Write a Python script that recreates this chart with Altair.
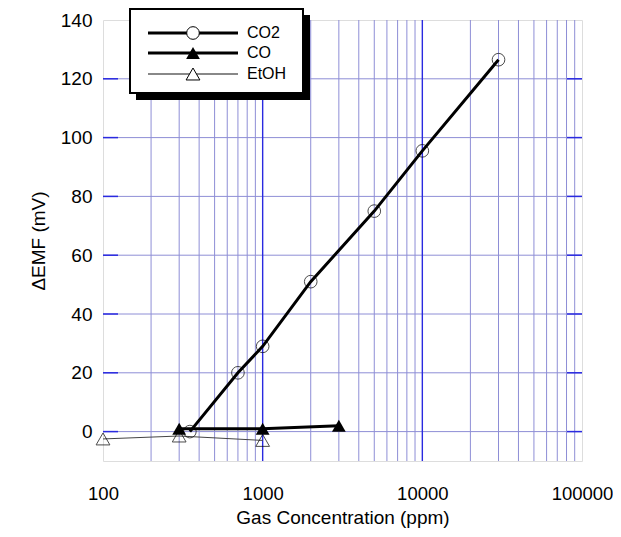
import altair as alt
import pandas as pd

# ---- data ----
co2_ppm = [350, 700, 1000, 2000, 5000, 10000, 30000]
co2_mv = [0, 20, 29, 51, 75, 95.5, 126.5]
co_ppm = [300, 1000, 3000]
co_mv = [1, 1, 2]
etoh_ppm = [100, 300, 1000]
etoh_mv = [-2.5, -1.5, -3]

x_labels = [100, 1000, 10000, 100000]
y_ticks = [0, 20, 40, 60, 80, 100, 120, 140]
y_grid = [0, 20, 40, 60, 80, 100, 120]
major_x = [1000, 10000]
minor_x = [200, 300, 400, 500, 600, 700, 800, 900,
           2000, 3000, 4000, 5000, 6000, 7000, 8000, 9000,
           20000, 30000, 40000, 50000, 60000, 70000, 80000, 90000]
legend_labels = ["CO2", "CO", "EtOH"]

W, H = 479, 441
FONT = "Liberation Sans"

xs = alt.Scale(type="log", domain=[100, 100000])
ys = alt.Scale(domain=[-10, 140])
ax_x = alt.Axis(values=x_labels, format="d", grid=False, ticks=False, domain=False,
                labelFontSize=18.5, labelPadding=23, labelColor="black", labelFont=FONT,
                title="Gas Concentration (ppm)", titleFontSize=19, titleFontWeight="normal",
                titleFont=FONT, titleColor="black", titlePadding=6, labelFlush=False)
ax_y = alt.Axis(values=y_ticks, grid=False, ticks=False, domain=False,
                labelFontSize=19, labelPadding=11, labelColor="black", labelFont=FONT,
                title="ΔEMF (mV)", titleFontSize=19, titleFontWeight="normal",
                titleFont=FONT, titleColor="black", titlePadding=12)

X = lambda f: alt.X(f, type="quantitative", scale=xs, axis=ax_x)
Y = lambda f: alt.Y(f, type="quantitative", scale=ys, axis=ax_y)

minor_df = pd.DataFrame({"x": minor_x})
major_df = pd.DataFrame({"x": major_x})
ygrid_df = pd.DataFrame({"y": y_grid})

GRID = "#8e8ed6"
BLUE = "#2a2ae0"

minor = alt.Chart(minor_df).mark_rule(color=GRID, strokeWidth=1).encode(x=X("x"))
hgrid = alt.Chart(ygrid_df).mark_rule(color=GRID, strokeWidth=1).encode(y=Y("y"))
major = alt.Chart(major_df).mark_rule(color=BLUE, strokeWidth=1.4).encode(x=X("x"))
lticks = alt.Chart(ygrid_df).mark_rule(color=BLUE, strokeWidth=1.5).encode(
    y=Y("y"), x=alt.value(0), x2=alt.value(15))
rticks = alt.Chart(ygrid_df).mark_rule(color=BLUE, strokeWidth=1.5).encode(
    y=Y("y"), x=alt.value(W - 15), x2=alt.value(W))

co2_df = pd.DataFrame({"ppm": co2_ppm, "mv": co2_mv})
co_df = pd.DataFrame({"ppm": co_ppm, "mv": co_mv})
et_df = pd.DataFrame({"ppm": etoh_ppm, "mv": etoh_mv})

et_line = alt.Chart(et_df).mark_line(color="#444444", strokeWidth=1).encode(x=X("ppm"), y=Y("mv"))
et_pts = alt.Chart(et_df).mark_point(shape="triangle-up", filled=False, size=190,
                                     color="black", strokeWidth=1).encode(x=X("ppm"), y=Y("mv"))
co_line = alt.Chart(co_df).mark_line(color="black", strokeWidth=3).encode(x=X("ppm"), y=Y("mv"))
co_pts = alt.Chart(co_df).mark_point(shape="triangle-up", filled=True, size=190,
                                     color="black", opacity=1).encode(x=X("ppm"), y=Y("mv"))
co2_line = alt.Chart(co2_df).mark_line(color="black", strokeWidth=3).encode(x=X("ppm"), y=Y("mv"))
co2_pts = alt.Chart(co2_df).mark_point(shape="circle", filled=False, size=160,
                                       color="black", strokeWidth=1).encode(x=X("ppm"), y=Y("mv"))

# ---- custom legend ----
one = pd.DataFrame({"a": [0]})
shadow = alt.Chart(one).mark_rect(color="black").encode(
    x=alt.value(33), x2=alt.value(207), y=alt.value(-5), y2=alt.value(80))
box = alt.Chart(one).mark_rect(fill="white", stroke="black", strokeWidth=2).encode(
    x=alt.value(27), x2=alt.value(200), y=alt.value(-11), y2=alt.value(73))
legend_layers = [shadow, box]
rows_y = [13, 33, 54]
styles = [
    dict(lc="black", lw=3, shape="circle", filled=False, size=160),
    dict(lc="black", lw=3, shape="triangle-up", filled=True, size=190),
    dict(lc="#888888", lw=2, shape="triangle-up", filled=False, size=190),
]
for lab, ry, st in zip(legend_labels, rows_y, styles):
    ldf = pd.DataFrame({"label": [lab]})
    legend_layers.append(alt.Chart(ldf).mark_rule(color=st["lc"], strokeWidth=st["lw"]).encode(
        x=alt.value(45), x2=alt.value(135), y=alt.value(ry)))
    if st["filled"]:
        pm = alt.Chart(ldf).mark_point(shape=st["shape"], filled=True, size=st["size"],
                                       color="black", opacity=1)
    else:
        pm = alt.Chart(ldf).mark_point(shape=st["shape"], filled=True, size=st["size"],
                                       fill="white", stroke="black", strokeWidth=1, opacity=1)
    legend_layers.append(pm.encode(x=alt.value(90), y=alt.value(ry)))
    legend_layers.append(alt.Chart(ldf).mark_text(align="left", baseline="middle", fontSize=16,
                                                  font=FONT, color="black").encode(
        text="label:N", x=alt.value(144), y=alt.value(ry)))

chart = alt.layer(
    minor, hgrid, major, lticks, rticks,
    et_line, et_pts, co_line, co_pts, co2_line, co2_pts,
    *legend_layers
).properties(
    width=W, height=H,
    autosize=alt.AutoSizeParams(type="none"),
    padding={"left": 95, "top": 12, "right": 31, "bottom": 68},
).configure_view(
    stroke=BLUE, strokeWidth=1.5
).configure(background="white")

chart.save("out.html", embed_options={"renderer": "svg", "actions": False})
